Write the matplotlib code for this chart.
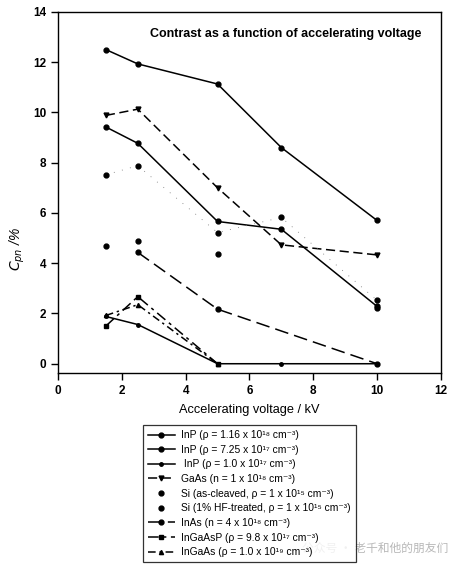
import matplotlib.pyplot as plt

plt.rcParams['font.family'] = ['Liberation Sans', 'DejaVu Sans']

# Accelerating voltage (kV) and contrast C_pn (%)
v5 = [1.5, 2.5, 5, 7, 10]
inp_18 = [12.5, 11.93, 11.13, 8.6, 5.7]
inp_725 = [9.42, 8.77, 5.66, 5.35, 2.28]
inp_17 = [1.88, 1.56, 0.0, 0.0, 0.0]
gaas = [9.88, 10.13, 7.0, 4.73, 4.33]
si_cleaved = [7.52, 7.88, 5.22, 5.82, 2.52]
v_hf = [1.5, 2.5, 5, 10]
si_hf = [4.67, 4.88, 4.38, 2.2]
v_inas = [2.5, 5, 10]
inas = [4.43, 2.17, 0.0]
v3 = [1.5, 2.5, 5]
ingaasp = [1.5, 2.67, 0.0]
ingaas = [1.92, 2.35, 0.0]

labels = [
    'InP (ρ = 1.16 x 10¹⁸ cm⁻³)',
    'InP (ρ = 7.25 x 10¹⁷ cm⁻³)',
    ' InP (ρ = 1.0 x 10¹⁷ cm⁻³)',
    'GaAs (n = 1 x 10¹⁸ cm⁻³)',
    'Si (as-cleaved, ρ = 1 x 10¹⁵ cm⁻³)',
    'Si (1% HF-treated, ρ = 1 x 10¹⁵ cm⁻³)',
    'InAs (n = 4 x 10¹⁸ cm⁻³)',
    'InGaAsP (ρ = 9.8 x 10¹⁷ cm⁻³)',
    'InGaAs (ρ = 1.0 x 10¹⁹ cm⁻³)',
]

fig = plt.figure(figsize=(4.55, 5.66), dpi=100)
ax = fig.add_axes([0.1275, 0.3405, 0.8415, 0.6385])

lw = 1.1
ms = 3.5
h = []
h += ax.plot(v5, inp_18, 'k-', marker='o', ms=ms, lw=lw)
h += ax.plot(v5, inp_725, 'k-', marker='o', ms=ms, lw=lw)
h += ax.plot(v5, inp_17, 'k-', marker='o', ms=2.5, lw=lw)
h += ax.plot(v5, gaas, 'k', ls=(0, (6, 3)), marker='v', ms=ms, lw=lw)
# faint dotted trace for the as-cleaved Si points
ax.plot(v5, si_cleaved, color='0.45', ls=(0, (1, 9)), lw=0.6)
h += ax.plot(v5, si_cleaved, 'ko', ms=ms, ls='none')
h += ax.plot(v_hf, si_hf, 'ko', ms=ms, ls='none')
h += ax.plot(v_inas, inas, 'k', ls=(0, (9, 4)), marker='o', ms=ms, lw=lw)
h += ax.plot(v3, ingaasp, 'k', ls=(0, (7, 3, 2, 3)), marker='s', ms=3, lw=lw)
h += ax.plot(v3, ingaas, 'k', ls=(0, (5, 2.5, 1.5, 2.5)), marker='^', ms=3, lw=lw)

ax.set_xlim(0, 12)
ax.set_ylim(-0.38, 14)
ax.set_xticks(range(0, 13, 2))
ax.set_yticks(range(0, 15, 2))
ax.tick_params(direction='out', length=5, width=1, labelsize=8.5,
               top=False, right=False)
for t in ax.get_xticklabels() + ax.get_yticklabels():
    t.set_fontweight('bold')
for s in ax.spines.values():
    s.set_linewidth(1.0)

ax.set_xlabel('Accelerating voltage / kV', fontsize=9.2, labelpad=5)
ax.set_ylabel(r'$C_{pn}$ /%', fontsize=10, style='italic')
ax.yaxis.set_label_coords(-0.08, 0.344)
ax.text(0.948, 0.94, 'Contrast as a function of accelerating voltage',
        transform=ax.transAxes, ha='right', va='center',
        fontsize=9, fontweight='bold')

leg = fig.legend(h, labels, loc='upper left',
                 bbox_to_anchor=(0.314, 0.249), fontsize=7.4,
                 frameon=True, fancybox=False, edgecolor='black',
                 handlelength=2.6, labelspacing=0.45, borderpad=0.5,
                 handletextpad=0.6, borderaxespad=0)
leg.get_frame().set_linewidth(0.9)

fig.text(0.985, 0.032, '公众号 · 老千和他的朋友们', ha='right', va='center',
         fontsize=8.5, color='#b8b8b8',
         family=['Noto Sans CJK SC', 'DejaVu Sans'])

fig.savefig('out.png', dpi=100)
